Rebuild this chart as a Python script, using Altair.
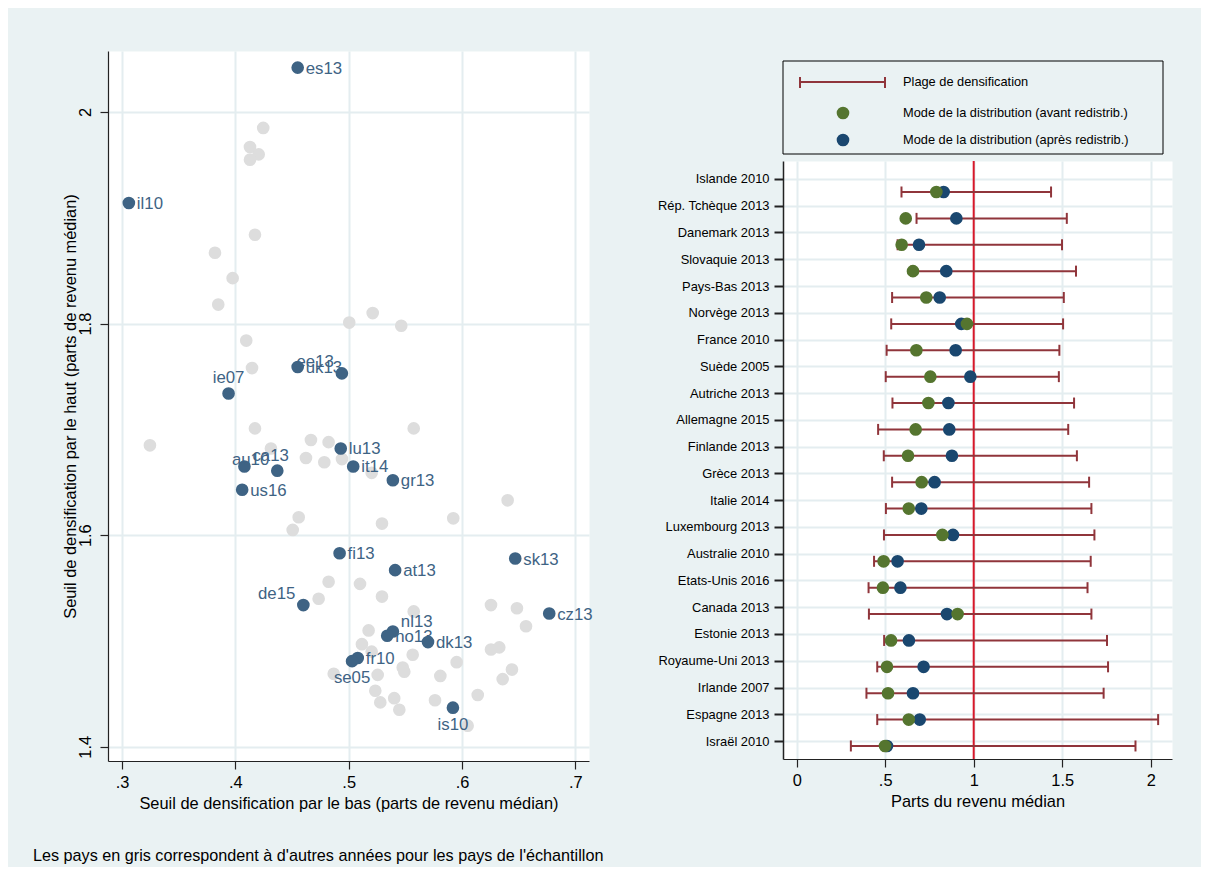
import json
import altair as alt
import pandas as pd

# ---------------- data ----------------
countries = ["Islande 2010", "Rép. Tchèque 2013", "Danemark 2013", "Slovaquie 2013",
             "Pays-Bas 2013", "Norvège 2013", "France 2010", "Suède 2005",
             "Autriche 2013", "Allemagne 2015", "Finlande 2013", "Grèce 2013",
             "Italie 2014", "Luxembourg 2013", "Australie 2010", "Etats-Unis 2016",
             "Canada 2013", "Estonie 2013", "Royaume-Uni 2013", "Irlande 2007",
             "Espagne 2013", "Israël 2010"]
codes = ["is10", "cz13", "dk13", "sk13", "nl13", "no13", "fr10", "se05", "at13", "de15",
         "fi13", "gr13", "it14", "lu13", "au10", "us16", "ca13", "ee13", "uk13", "ie07",
         "es13", "il10"]
# lower / upper densification thresholds (share of median income)
seuil_bas = [0.592, 0.677, 0.570, 0.647, 0.539, 0.534, 0.508, 0.503, 0.541, 0.460,
             0.492, 0.539, 0.504, 0.493, 0.437, 0.406, 0.408, 0.494, 0.455, 0.394,
             0.455, 0.306]
seuil_haut = [1.437, 1.526, 1.499, 1.578, 1.509, 1.505, 1.484, 1.481, 1.567, 1.534,
              1.583, 1.652, 1.665, 1.682, 1.661, 1.643, 1.665, 1.753, 1.759, 1.734,
              2.042, 1.914]
mode_avant = [0.789, 0.616, 0.593, 0.657, 0.732, 0.962, 0.676, 0.755, 0.744, 0.672,
              0.629, 0.706, 0.633, 0.823, 0.491, 0.487, 0.909, 0.533, 0.510, 0.516,
              0.633, 0.499]
mode_apres = [0.830, 0.902, 0.691, 0.845, 0.808, 0.930, 0.898, 0.981, 0.857, 0.862,
              0.877, 0.779, 0.704, 0.883, 0.570, 0.586, 0.849, 0.634, 0.717, 0.657,
              0.695, 0.510]

# other years (grey points)
gris_bas = [0.4246, 0.4129, 0.4206, 0.4129, 0.4173, 0.382, 0.3976, 0.3849, 0.5005, 0.5212,
            0.5464, 0.4096, 0.4147, 0.5574, 0.4667, 0.4823, 0.4623, 0.4785, 0.4941, 0.5203,
            0.6403, 0.4559, 0.5923, 0.5294, 0.4506, 0.3246, 0.4173, 0.4314, 0.4823, 0.51,
            0.4735, 0.5294, 0.6256, 0.6485, 0.6565, 0.5574, 0.5176, 0.5117, 0.5565, 0.5203,
            0.6256, 0.6329, 0.4868, 0.5256, 0.5477, 0.5491, 0.5953, 0.5809, 0.6441, 0.6359,
            0.5235, 0.5402, 0.5279, 0.5447, 0.5762, 0.6139, 0.605]
gris_haut = [1.985, 1.967, 1.960, 1.955, 1.884, 1.867, 1.843, 1.818, 1.801, 1.810,
             1.798, 1.784, 1.758, 1.701, 1.690, 1.688, 1.673, 1.669, 1.672, 1.659,
             1.633, 1.617, 1.616, 1.611, 1.605, 1.685, 1.701, 1.682, 1.556, 1.554,
             1.540, 1.542, 1.534, 1.531, 1.514, 1.528, 1.510, 1.497, 1.487, 1.490,
             1.492, 1.494, 1.469, 1.468, 1.475, 1.471, 1.480, 1.467, 1.473, 1.464,
             1.453, 1.446, 1.442, 1.435, 1.444, 1.449, 1.420]

left_ticks_x = [0.3, 0.4, 0.5, 0.6, 0.7]
left_ticks_y = [1.4, 1.6, 1.8, 2.0]
right_ticks_x = [0, 0.5, 1, 1.5, 2]
reference_value = [1]

legend_labels = ["Plage de densification",
                 "Mode de la distribution (avant redistrib.)",
                 "Mode de la distribution (après redistrib.)"]
note = ["Les pays en gris correspondent à d'autres années pour les pays de l'échantillon"]

# marker-label clock positions (style, as in Stata's mlabvposition)
label_clock = {"ca13": 2, "nl13": 2, "ee13": 10, "au10": 10, "de15": 10,
               "ie07": 12, "se05": 6, "is10": 6}

# ---------------- styles ----------------
FONT = "Liberation Sans"
BG = "#EAF2F3"
GRID = "#E4EDF0"
BLUE_L = "#3E6384"
GREY = "#DDDDDD"
NAVY = "#1A476F"
GREEN = "#55752F"
MAROON = "#90353B"
RED = "#D7182A"
FS = 16.4

df = pd.DataFrame({"country": countries, "code": codes, "lo": seuil_bas, "hi": seuil_haut,
                   "avant": mode_avant, "apres": mode_apres,
                   "idx": list(range(len(countries)))})
df["clock"] = [label_clock.get(c, 3) for c in codes]
gdf = pd.DataFrame({"x": gris_bas, "y": gris_haut})

# ---------------- left scatter ----------------
xs = alt.Scale(domain=[0.2876, 0.7121], nice=False, zero=False)
ys = alt.Scale(domain=[1.3866, 2.0577], nice=False, zero=False)

x_ax = alt.Axis(values=left_ticks_x, labelExpr="replace(format(datum.value, '.1f'), '0.', '.')",
                title="Seuil de densification par le bas (parts de revenu médian)",
                tickSize=8, labelPadding=5, titlePadding=5, labelFontSize=FS,
                titleFontSize=FS, grid=True, labelFlush=False)
y_ax = alt.Axis(values=left_ticks_y,
                labelExpr="datum.value == 2 ? '2' : format(datum.value, '.1f')",
                title="Seuil de densification par le haut (parts de revenu médian)",
                tickSize=8, labelPadding=7, titlePadding=-1, labelAngle=270,
                labelFontSize=FS, titleFontSize=FS, grid=True, labelFlush=False)

grey_pts = alt.Chart(gdf).mark_circle(size=160, opacity=1, color=GREY).encode(
    x=alt.X("x:Q", scale=xs, axis=x_ax),
    y=alt.Y("y:Q", scale=ys, axis=y_ax))
blue_pts = alt.Chart(df).mark_circle(size=160, opacity=1, color=BLUE_L).encode(
    x=alt.X("lo:Q", scale=xs, axis=x_ax),
    y=alt.Y("hi:Q", scale=ys, axis=y_ax))

placements = {3: dict(align="left", dx=8, dy=1), 2: dict(align="left", dx=8, dy=-10),
              10: dict(align="right", dx=-8, dy=-11), 12: dict(align="center", dx=0, dy=-15),
              6: dict(align="center", dx=0, dy=17)}
label_layers = []
for clock, p in placements.items():
    label_layers.append(
        alt.Chart(df).transform_filter(alt.datum.clock == clock).mark_text(
            font=FONT, fontSize=16.8, color=BLUE_L, baseline="middle", **p).encode(
            x=alt.X("lo:Q", scale=xs, axis=x_ax),
            y=alt.Y("hi:Q", scale=ys, axis=y_ax),
            text="code:N"))

footer = alt.Chart(pd.DataFrame({"t": note})).mark_text(
    align="left", baseline="middle", font=FONT, fontSize=16.2, color="black").encode(
    x=alt.value(-75), y=alt.value(805), text="t:N")

left = alt.layer(grey_pts, blue_pts, *label_layers, footer).properties(
    width=481, height=710, view=alt.ViewBackground(fill="white", stroke="transparent"))

# ---------------- right dot/range plot ----------------
xr = alt.Scale(domain=[-0.0774, 2.1203], nice=False, zero=False)
y_lab = alt.Scale(domain=[-0.67, 21.67], reverse=True, nice=False, zero=False)
y_pts = alt.Scale(domain=[-1.175, 21.494], reverse=True, nice=False, zero=False)

names_js = "[" + ",".join(json.dumps(c, ensure_ascii=False) for c in countries) + "]"
xr_ax = alt.Axis(values=right_ticks_x,
                 labelExpr="datum.value == 0.5 ? '.5' : toString(datum.value)",
                 title="Parts du revenu médian", tickSize=8, labelPadding=5, titlePadding=5,
                 labelFontSize=FS, titleFontSize=FS, grid=True, labelFlush=False)
yr_ax = alt.Axis(values=list(range(len(countries))), labelExpr=names_js + "[datum.value]",
                 title=None, tickSize=9, tickWidth=2, labelPadding=5, labelFontSize=12.9,
                 grid=True, labelFlush=False, domainWidth=1.5)

axis_layer = alt.Chart(df).mark_point(opacity=0).encode(
    x=alt.X("lo:Q", scale=xr, axis=xr_ax),
    y=alt.Y("idx:Q", scale=y_lab, axis=yr_ax))
ref_rule = alt.Chart(pd.DataFrame({"v": reference_value})).mark_rule(
    color=RED, strokeWidth=2).encode(x=alt.X("v:Q", scale=xr, axis=xr_ax))
bars = alt.Chart(df).mark_rule(color=MAROON, strokeWidth=2).encode(
    x=alt.X("lo:Q", scale=xr, axis=xr_ax), x2="hi:Q",
    y=alt.Y("idx:Q", scale=y_pts, axis=None))
cap_lo = alt.Chart(df).mark_tick(orient="vertical", color=MAROON, size=11, thickness=2,
                                 opacity=1).encode(
    x=alt.X("lo:Q", scale=xr, axis=xr_ax), y=alt.Y("idx:Q", scale=y_pts, axis=None))
cap_hi = alt.Chart(df).mark_tick(orient="vertical", color=MAROON, size=11, thickness=2,
                                 opacity=1).encode(
    x=alt.X("hi:Q", scale=xr, axis=xr_ax), y=alt.Y("idx:Q", scale=y_pts, axis=None))
dots_apres = alt.Chart(df).mark_circle(size=160, opacity=1, color=NAVY).encode(
    x=alt.X("apres:Q", scale=xr, axis=xr_ax), y=alt.Y("idx:Q", scale=y_pts, axis=None))
dots_avant = alt.Chart(df).mark_circle(size=160, opacity=1, color=GREEN).encode(
    x=alt.X("avant:Q", scale=xr, axis=xr_ax), y=alt.Y("idx:Q", scale=y_pts, axis=None))

right = alt.layer(axis_layer, ref_rule, bars, cap_lo, cap_hi, dots_apres, dots_avant).resolve_scale(
    y="independent").properties(width=389, height=598,
                                view=alt.ViewBackground(fill="white", stroke="transparent"))

# ---------------- legend ----------------
one = pd.DataFrame({"a": [0]})
leg_box = alt.Chart(one).mark_rect(fillOpacity=0, stroke="black", strokeWidth=1).encode(
    x=alt.value(0), x2=alt.value(380), y=alt.value(10), y2=alt.value(103))
leg_rule = alt.Chart(one).mark_rule(color=MAROON, strokeWidth=2).encode(
    x=alt.value(17), x2=alt.value(102), y=alt.value(31))
leg_cap1 = alt.Chart(one).mark_rule(color=MAROON, strokeWidth=2).encode(
    x=alt.value(17), y=alt.value(26), y2=alt.value(37))
leg_cap2 = alt.Chart(one).mark_rule(color=MAROON, strokeWidth=2).encode(
    x=alt.value(102), y=alt.value(26), y2=alt.value(37))
leg_green = alt.Chart(one).mark_circle(size=160, opacity=1, color=GREEN).encode(
    x=alt.value(60), y=alt.value(62))
leg_navy = alt.Chart(one).mark_circle(size=160, opacity=1, color=NAVY).encode(
    x=alt.value(60), y=alt.value(89))
leg_texts = []
for lab, yy in zip(legend_labels, [31, 62, 89]):
    leg_texts.append(
        alt.Chart(pd.DataFrame({"label": [lab]})).mark_text(
            align="left", baseline="middle", font=FONT, fontSize=12.8, color="black").encode(
            x=alt.value(120), y=alt.value(yy), text="label:N"))
legend = alt.layer(leg_box, leg_rule, leg_cap1, leg_cap2, leg_green, leg_navy, *leg_texts).properties(
    width=380, height=103)

right_col = alt.vconcat(legend, right, spacing=4)

chart = alt.hconcat(left, right_col, spacing=52).properties(
    padding={"left": 24, "top": 42, "right": 28, "bottom": 2}
).configure(background=BG).configure_view(stroke="transparent").configure_axis(
    labelFont=FONT, titleFont=FONT, labelColor="black", titleColor="black",
    titleFontWeight="normal", domainColor="#222222", tickColor="#222222",
    gridColor=GRID, gridWidth=2, domainWidth=1.2, tickWidth=1.2)

chart.save("out.html", embed_options={"renderer": "svg", "actions": False})
